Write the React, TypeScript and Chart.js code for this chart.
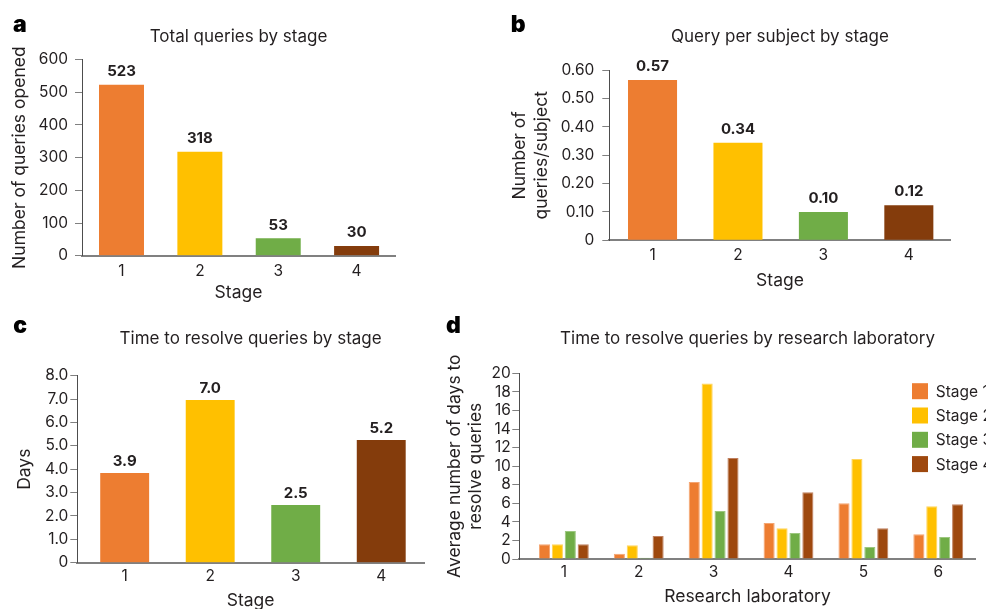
import React, { useEffect, useRef } from 'react';
import { Chart, registerables } from 'chart.js';

Chart.register(...registerables);

const FONT = 'Inter, "Noto Sans", sans-serif';
const TEXT = '#231f20';
const AXIS_GRAY = '#808080';
const AXIS_DARK = '#4d4d4d';
const TICK_SIZE = 15.5;
const TITLE_SIZE = 17;
const AXIS_TITLE_SIZE = 17.5;

// ---------- data ----------
const stages = [1, 2, 3, 4];
const stageColors = ['#ED7D31', '#FFC000', '#70AD47', '#843C0C'];

const totalQueries = [523, 318, 53, 30];
const totalQueryLabels = ['523', '318', '53', '30'];

const queriesPerSubject = [0.566, 0.344, 0.1, 0.124];
const perSubjectLabels = ['0.57', '0.34', '0.10', '0.12'];

const daysToResolve = [3.84, 6.96, 2.47, 5.25];
const daysLabels = ['3.9', '7.0', '2.5', '5.2'];

const labs = [1, 2, 3, 4, 5, 6];
const labStage1 = [1.58, 0.57, 8.29, 3.88, 6.0, 2.66];
const labStage2 = [1.58, 1.47, 18.89, 3.3, 10.77, 5.67];
const labStage3 = [3.02, 0.14, 5.17, 2.8, 1.29, 2.37];
const labStage4 = [1.58, 2.48, 10.88, 7.18, 3.3, 5.89];
const stageNames = ['Stage 1', 'Stage 2', 'Stage 3', 'Stage 4'];
const labStageColors = ['#ED7D31', '#FFC000', '#70AD47', '#9E480E'];
const labStageEdges = ['#F4A572', '#FFD45C', '#9CC77F', '#C08060'];

// ---------- plugins ----------
const barValueLabels = {
  id: 'barValueLabels',
  afterDatasetsDraw(chart: any, _args: any, opts: any) {
    if (!opts || !opts.labels) return;
    const ctx = chart.ctx;
    const meta = chart.getDatasetMeta(0);
    ctx.save();
    ctx.font = `bold 15px ${FONT}`;
    ctx.fillStyle = TEXT;
    ctx.textAlign = 'center';
    ctx.textBaseline = 'middle';
    meta.data.forEach((el: any, i: number) => {
      ctx.fillText(opts.labels[i], el.x, el.y - opts.offset);
    });
    ctx.restore();
  },
};

const panelLetter = {
  id: 'panelLetter',
  afterDraw(chart: any, _args: any, opts: any) {
    if (!opts || !opts.text) return;
    const ctx = chart.ctx;
    ctx.save();
    ctx.font = `900 23px ${FONT}`;
    ctx.fillStyle = '#000';
    ctx.textAlign = 'left';
    ctx.textBaseline = 'alphabetic';
    ctx.fillText(opts.text, opts.x, opts.y);
    ctx.restore();
  },
};

const sideLegend = {
  id: 'sideLegend',
  afterDraw(chart: any, _args: any, opts: any) {
    if (!opts || !opts.show) return;
    const ctx = chart.ctx;
    const area = chart.chartArea;
    ctx.save();
    ctx.font = `15.5px ${FONT}`;
    ctx.textAlign = 'left';
    ctx.textBaseline = 'middle';
    chart.data.datasets.forEach((ds: any, i: number) => {
      const cy = area.top + opts.firstRow + i * opts.rowGap;
      const sx = area.right - opts.fromRight;
      ctx.fillStyle = ds.backgroundColor;
      ctx.fillRect(sx, cy - opts.box / 2, opts.box, opts.box);
      ctx.fillStyle = TEXT;
      ctx.fillText(ds.label, sx + opts.textGap, cy + 1);
    });
    ctx.restore();
  },
};

// ---------- config helpers ----------
function xScale(g: any, xTicks: number[], xMin: number, xMax: number, title: string) {
  return {
    type: 'linear',
    min: xMin,
    max: xMax,
    offset: false,
    afterBuildTicks: (s: any) => {
      s.ticks = xTicks.map((v) => ({ value: v }));
    },
    afterFit: (s: any) => {
      s.height = g.xHeight;
    },
    grid: { display: false, drawTicks: false },
    border: { display: true, color: AXIS_GRAY, width: 2 },
    ticks: {
      padding: g.xTickPad,
      color: TEXT,
      font: { family: FONT, size: TICK_SIZE },
      callback: (v: any) => String(v),
      autoSkip: false,
      maxRotation: 0,
    },
    title: {
      display: true,
      text: title,
      color: TEXT,
      font: { family: FONT, size: AXIS_TITLE_SIZE, lineHeight: 1.2 },
      padding: { top: 0, bottom: g.xTitleBottom },
    },
  };
}

function yScale(g: any, yMax: number, yStep: number, fmt: (v: number) => string, title: string | string[]) {
  return {
    type: 'linear',
    min: 0,
    max: yMax,
    afterFit: (s: any) => {
      s.width = g.yWidth;
    },
    grid: {
      display: true,
      drawOnChartArea: false,
      drawTicks: true,
      tickLength: 7,
      color: AXIS_GRAY,
      lineWidth: 1,
    },
    border: { display: true, color: AXIS_DARK, width: 1 },
    ticks: {
      stepSize: yStep,
      autoSkip: false,
      padding: g.yTickPad,
      color: TEXT,
      font: { family: FONT, size: TICK_SIZE },
      callback: (v: any) => fmt(Number(v)),
    },
    title: {
      display: true,
      text: title,
      color: TEXT,
      font: { family: FONT, size: AXIS_TITLE_SIZE, lineHeight: g.yTitleLH },
      padding: { top: g.yTitleTop, bottom: 0 },
    },
  };
}

function stageConfig(p: any) {
  const g = p.g;
  return {
    type: 'bar',
    data: {
      datasets: [
        {
          data: stages.map((s, i) => ({ x: s, y: p.values[i] })),
          backgroundColor: stageColors,
          borderWidth: 0,
          barPercentage: p.barPct,
          categoryPercentage: 1,
        },
      ],
    },
    options: {
      responsive: false,
      animation: false,
      devicePixelRatio: 1,
      layout: { padding: { left: 0, top: 0, right: g.padRight, bottom: 0 } },
      plugins: {
        legend: { display: false },
        tooltip: { enabled: false },
        title: {
          display: true,
          fullSize: false,
          text: p.title,
          color: TEXT,
          font: { family: FONT, size: TITLE_SIZE, weight: 'normal', lineHeight: 1.2 },
          padding: { top: g.titleTop, bottom: g.titleBottom },
        },
        barValueLabels: { labels: p.labels, offset: g.labelOffset },
        panelLetter: p.letter,
      },
      scales: {
        x: xScale(g, stages, p.xMin, p.xMax, 'Stage'),
        y: yScale(g, p.yMax, p.yStep, p.yFmt, p.yTitle),
      },
    },
    plugins: [barValueLabels, panelLetter],
  };
}

const buildA = () =>
  stageConfig({
    values: totalQueries,
    labels: totalQueryLabels,
    title: 'Total queries by stage',
    yTitle: 'Number of queries opened',
    yMax: 600,
    yStep: 100,
    yFmt: (v: number) => String(v),
    xMin: 0.496,
    xMax: 4.49,
    barPct: 0.574,
    letter: { text: 'a', x: 13, y: 31.7 },
    g: {
      padRight: 45, titleTop: 26.8, titleBottom: 12.3,
      yWidth: 82, yTitleTop: 9.0, yTitleLH: 1.2, yTickPad: 7,
      xHeight: 49.3, xTitleBottom: 2.0, xTickPad: 6.0, labelOffset: 13,
    },
  });

const buildB = () =>
  stageConfig({
    values: queriesPerSubject,
    labels: perSubjectLabels,
    title: 'Query per subject by stage',
    yTitle: ['Number of', 'queries/subject'],
    yMax: 0.6,
    yStep: 0.1,
    yFmt: (v: number) => (v === 0 ? '0' : v.toFixed(2)),
    xMin: 0.494,
    xMax: 4.49,
    barPct: 0.574,
    letter: { text: 'b', x: 15.7, y: 32.3 },
    g: {
      padRight: 35.3, titleTop: 26.5, titleBottom: 23.4,
      yWidth: 114.3, yTitleTop: 14.0, yTitleLH: 1.24, yTickPad: 8,
      xHeight: 64.7, xTitleBottom: 13.7, xTickPad: 5.4, labelOffset: 13.3,
    },
  });

const buildC = () =>
  stageConfig({
    values: daysToResolve,
    labels: daysLabels,
    title: 'Time to resolve queries by stage',
    yTitle: 'Days',
    yMax: 8,
    yStep: 1,
    yFmt: (v: number) => (v === 0 ? '0' : v.toFixed(1)),
    xMin: 0.446,
    xMax: 4.5,
    barPct: 0.572,
    letter: { text: 'c', x: 13.3, y: 22.7 },
    g: {
      padRight: 16, titleTop: 19.0, titleBottom: 26.3,
      yWidth: 77.3, yTitleTop: 14.0, yTitleLH: 1.2, yTickPad: 2,
      xHeight: 57.3, xTitleBottom: 8.7, xTickPad: 4.7, labelOffset: 11.3,
    },
  });

const buildD = () => {
  const g = {
    padRight: 24.3, titleTop: 18.5, titleBottom: 24.4,
    yWidth: 79.3, yTitleTop: 4.4, yTitleLH: 1.18, yTickPad: 1.5,
    xHeight: 61, xTitleBottom: 12.7, xTickPad: 4.0,
  };
  const series = [labStage1, labStage2, labStage3, labStage4];
  return {
    type: 'bar',
    data: {
      datasets: series.map((vals, k) => ({
        label: stageNames[k],
        data: labs.map((l, i) => ({ x: l, y: vals[i] })),
        backgroundColor: labStageColors[k],
        borderColor: labStageEdges[k],
        borderWidth: 1,
        barPercentage: 0.86,
        categoryPercentage: 0.69,
      })),
    },
    options: {
      responsive: false,
      animation: false,
      devicePixelRatio: 1,
      layout: { padding: { left: 0, top: 0, right: g.padRight, bottom: 0 } },
      plugins: {
        legend: { display: false },
        tooltip: { enabled: false },
        title: {
          display: true,
          fullSize: false,
          text: 'Time to resolve queries by research laboratory',
          color: TEXT,
          font: { family: FONT, size: TITLE_SIZE, weight: 'normal', lineHeight: 1.2 },
          padding: { top: g.titleTop, bottom: g.titleBottom },
        },
        panelLetter: { text: 'd', x: 6, y: 23.3 },
        sideLegend: { show: true, fromRight: 63.7, firstRow: 17.9, rowGap: 24.3, box: 16, textGap: 23.7 },
      },
      scales: {
        x: xScale(g, labs, 0.405, 6.5, 'Research laboratory'),
        y: yScale(g, 20, 2, (v: number) => String(v), ['Average number of days to', 'resolve queries']),
      },
    },
    plugins: [panelLetter, sideLegend],
  };
};

function ChartPanel({ left, top, width, height, build }: any) {
  const ref = useRef<HTMLCanvasElement>(null);
  useEffect(() => {
    const chart = new Chart(ref.current as HTMLCanvasElement, build() as any);
    return () => chart.destroy();
  }, [build]);
  return (
    <canvas
      ref={ref}
      width={width}
      height={height}
      style={{ position: 'absolute', left, top, width, height, display: 'block' }}
    />
  );
}

export default function App() {
  return (
    <div
      style={{
        position: 'fixed',
        left: 0,
        top: 0,
        width: 986,
        height: 609,
        overflow: 'hidden',
        background: '#ffffff',
      }}
    >
      <ChartPanel left={0} top={0} width={440} height={305} build={buildA} />
      <ChartPanel left={495} top={0} width={491} height={305} build={buildB} />
      <ChartPanel left={0} top={310} width={440} height={310} build={buildC} />
      <ChartPanel left={440} top={310} width={560} height={310} build={buildD} />
    </div>
  );
}
